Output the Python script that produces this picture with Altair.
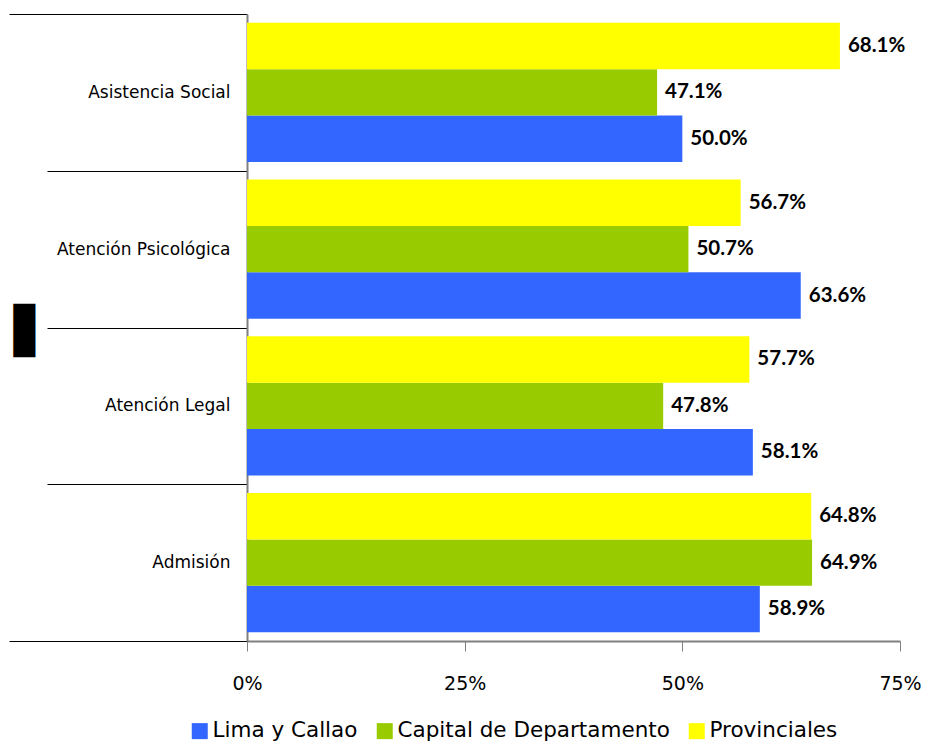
import altair as alt
import pandas as pd

# Share of cases by service and region
categories = ["Asistencia Social", "Atención Psicológica", "Atención Legal", "Admisión"]
series = ["Lima y Callao", "Capital de Departamento", "Provinciales"]
lima_callao = [50.0, 63.6, 58.1, 58.9]
capital_depto = [47.1, 50.7, 47.8, 64.9]
provinciales = [68.1, 56.7, 57.7, 64.8]
colors = ["#3366FF", "#99CC00", "#FFFF00"]
x_ticks = [0, 25, 50, 75]

rows = []
for name, vals in zip(series, [lima_callao, capital_depto, provinciales]):
    for cat, v in zip(categories, vals):
        rows.append({"servicio": cat, "region": name, "valor": v,
                     "etiqueta": f"{v:.1f}%"})
df = pd.DataFrame(rows)

text_font = "DejaVu Sans"
value_font = "Lato"
stack_order = ["Provinciales", "Capital de Departamento", "Lima y Callao"]

# Separator ticks sit at the band edges; the outermost two run longer.
long_tick = "datum.value === 'Admisión' || datum.extra"

y_enc = alt.Y(
    "servicio:N",
    sort=categories,
    scale=alt.Scale(paddingInner=0, paddingOuter=0),
    axis=alt.Axis(
        title="▋",
        titleFont="DejaVu Sans",
        titleFontSize=45,
        titleColor="#000000",
        titleX=-234,
        titleY=331,
        titleAlign="left",
        titleBaseline="alphabetic",
        titleAngle=0,
        tickBand="extent",
        tickColor="#000000",
        tickWidth=1,
        tickSize={"condition": {"test": long_tick, "value": 238}, "value": 200},
        labelPadding={"condition": {"test": "datum.value === 'Admisión'", "value": -221},
                      "value": -183},
        labelFont=text_font,
        labelFontSize=17,
        labelColor="#000000",
        labelLimit=0,
        domainColor="#808080",
        domainWidth=2,
        grid=False,
    ),
)

x_enc = alt.X(
    "valor:Q",
    scale=alt.Scale(domain=[0, 75], nice=False),
    axis=alt.Axis(
        title=None,
        values=x_ticks,
        labelExpr="datum.value + '%'",
        labelFont=text_font,
        labelFontSize=19,
        labelColor="#000000",
        labelPadding=23,
        labelFlush=False,
        tickSize=10,
        tickColor="#808080",
        tickWidth=1,
        domainColor="#808080",
        domainWidth=2,
        grid=False,
    ),
)

yoff = alt.YOffset(
    "region:N",
    sort=stack_order,
    scale=alt.Scale(paddingInner=0, paddingOuter=0.19),
)

bars = alt.Chart(df).mark_bar().encode(
    y=y_enc,
    x=x_enc,
    yOffset=yoff,
    color=alt.Color(
        "region:N",
        scale=alt.Scale(domain=series, range=colors),
        legend=alt.Legend(
            title=None,
            orient="none",
            direction="horizontal",
            legendX=-58,
            legendY=706,
            symbolType="square",
            symbolSize=256,
            symbolStrokeWidth=0,
            symbolOpacity=1,
            labelFont=text_font,
            labelFontSize=21.5,
            labelColor="#000000",
            labelLimit=0,
            labelOffset=2,
            columnPadding=16,
        ),
    ),
)

labels = alt.Chart(df).mark_text(
    align="left", baseline="middle", dx=8, fontWeight="bold",
    font=value_font, fontSize=20.5, color="#000000",
).encode(
    y=alt.Y("servicio:N", sort=categories),
    x=alt.X("valor:Q"),
    yOffset=alt.YOffset("region:N", sort=stack_order),
    text="etiqueta:N",
)

chart = (
    alt.layer(bars, labels)
    .properties(
        width=653,
        height=627,
        background="#FFFFFF",
        autosize=alt.AutoSizeParams(type="none"),
        padding={"left": 247, "top": 14, "right": 25, "bottom": 102},
    )
    .configure_view(stroke="transparent")
    .configure_axis(grid=False)
)

chart.save("out.html", embed_options={"renderer": "svg", "actions": False})
